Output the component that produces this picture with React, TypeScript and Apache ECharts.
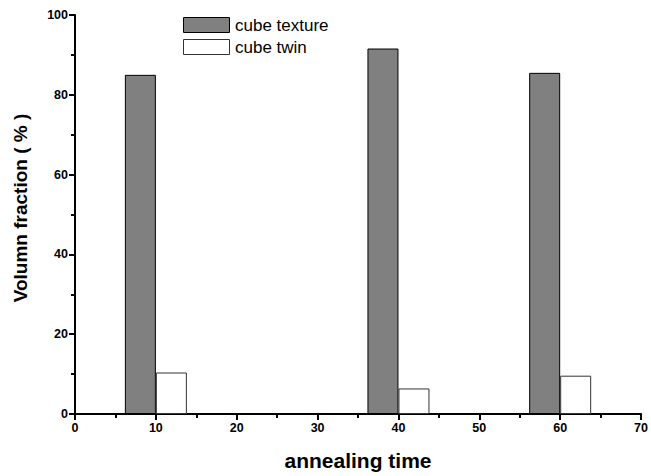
import React, { useEffect, useRef } from "react";
import * as echarts from "echarts";

// annealing time points
const times = [10, 40, 60];
// volume fractions (%)
const cubeTexture = [85, 91.6, 85.5];
const cubeTwin = [10.4, 6.4, 9.6];
const seriesNames = ["cube texture", "cube twin"];
const seriesFills = ["#808080", "#ffffff"];
const seriesStrokes = ["#000000", "#333333"];
const xTitle = "annealing time";
const yTitle = "Volumn fraction ( % )";

const FONT = "Arial, 'Liberation Sans', sans-serif";

// key drawn as plain shapes: a swatch and a caption per series
function legendKey() {
  const items: any[] = [];
  seriesNames.forEach((name, i) => {
    const top = 17 + i * 22;
    items.push({
      type: "rect",
      shape: { x: 183.5, y: top + 0.5, width: 46, height: 15 },
      style: { fill: seriesFills[i], stroke: seriesStrokes[i], lineWidth: 1 },
    });
    items.push({
      type: "text",
      x: 235,
      y: top + 8,
      style: { text: name, fill: "#000", font: `17px ${FONT}`, verticalAlign: "middle" },
    });
  });
  return items;
}

export default function App() {
  const plotRef = useRef<HTMLDivElement>(null);
  const overlayRef = useRef<HTMLDivElement>(null);

  useEffect(() => {
    if (!plotRef.current || !overlayRef.current) return;

    // bars and axes
    const plot = echarts.init(plotRef.current, null, { renderer: "svg" });
    plot.setOption({
      animation: false,
      grid: { left: 75, right: 9, top: 15, bottom: 62 },
      xAxis: {
        type: "value",
        min: 0,
        max: 70,
        interval: 10,
        axisLine: { show: true, onZero: false, lineStyle: { color: "#000", width: 2 } },
        axisTick: { show: true, length: 6, lineStyle: { color: "#000", width: 2 } },
        minorTick: { show: true, splitNumber: 2, length: 4, lineStyle: { color: "#000", width: 2 } },
        splitLine: { show: false },
        axisLabel: { color: "#000", fontFamily: FONT, fontWeight: "bold", fontSize: 12.5, margin: 7 },
      },
      yAxis: {
        type: "value",
        min: 0,
        max: 100,
        interval: 20,
        axisLine: { show: true, onZero: false, lineStyle: { color: "#000", width: 2 } },
        axisTick: { show: true, length: 6, lineStyle: { color: "#000", width: 2 } },
        minorTick: { show: true, splitNumber: 2, length: 4, lineStyle: { color: "#000", width: 2 } },
        splitLine: { show: false },
        axisLabel: { color: "#000", fontFamily: FONT, fontWeight: "bold", fontSize: 12.5, margin: 7 },
      },
      series: [
        {
          name: seriesNames[0],
          type: "bar",
          barWidth: 31,
          barGap: "0%",
          data: times.map((t, i) => [t, cubeTexture[i]]),
          itemStyle: { color: seriesFills[0], borderColor: seriesStrokes[0], borderWidth: 1 },
        },
        {
          name: seriesNames[1],
          type: "bar",
          barWidth: 31,
          barGap: "0%",
          data: times.map((t, i) => [t, cubeTwin[i]]),
          itemStyle: { color: seriesFills[1], borderColor: seriesStrokes[1], borderWidth: 1 },
        },
      ],
    });

    // key and axis titles
    const overlay = echarts.init(overlayRef.current, null, { renderer: "svg" });
    overlay.setOption({
      animation: false,
      graphic: [
        ...legendKey(),
        {
          type: "text",
          x: 358,
          y: 460,
          style: {
            text: xTitle,
            fill: "#000",
            font: `bold 21px ${FONT}`,
            align: "center",
            verticalAlign: "middle",
          },
        },
        {
          type: "text",
          x: 20,
          y: 208,
          rotation: Math.PI / 2,
          style: {
            text: yTitle,
            fill: "#000",
            font: `bold 19px ${FONT}`,
            align: "center",
            verticalAlign: "middle",
          },
        },
      ],
    });

    return () => {
      overlay.dispose();
      plot.dispose();
    };
  }, []);

  return (
    <div style={{ position: "absolute", left: 0, top: 0, width: 651, height: 476 }}>
      <div ref={plotRef} style={{ position: "absolute", left: 0, top: 0, width: 651, height: 476 }} />
      <div
        ref={overlayRef}
        style={{ position: "absolute", left: 0, top: 0, width: 651, height: 476, pointerEvents: "none" }}
      />
    </div>
  );
}
